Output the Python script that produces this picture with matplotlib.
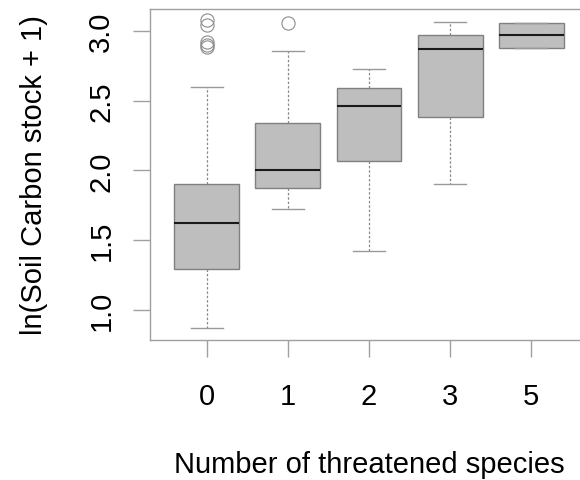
import matplotlib
matplotlib.use("Agg")
import matplotlib.pyplot as plt

categories = ["0", "1", "2", "3", "5"]
whislo = [0.871, 1.722, 1.419, 1.901, 2.878]
q1 = [1.290, 1.870, 2.068, 2.384, 2.878]
med = [1.619, 2.000, 2.462, 2.869, 2.969]
q3 = [1.899, 2.336, 2.587, 2.969, 3.058]
whishi = [2.596, 2.857, 2.725, 3.067, 3.058]
fliers = [[3.080, 3.041, 2.919, 2.902, 2.883], [3.060], [], [], []]

plt.rcParams['font.family'] = ['Liberation Sans', 'DejaVu Sans']

fig = plt.figure(figsize=(5.8, 4.81), dpi=100)
ax = fig.add_axes([150/580, 140/481, 438/580, 331/481])

stats = []
for i, c in enumerate(categories):
    stats.append(dict(label=c, whislo=whislo[i], q1=q1[i], med=med[i],
                      q3=q3[i], whishi=whishi[i], fliers=fliers[i]))

ax.bxp(stats, positions=range(1, 6), widths=0.8, patch_artist=True,
       boxprops=dict(facecolor='#BEBEBE', edgecolor='#808080', linewidth=1.0),
       medianprops=dict(color='#1a1a1a', linewidth=1.5),
       whiskerprops=dict(color='#8a8a8a', linewidth=0.9, linestyle=(0, (2, 1.5))),
       capprops=dict(color='#999999', linewidth=1.0),
       capwidths=0.4,
       flierprops=dict(marker='o', markersize=9.5, markerfacecolor='none',
                       markeredgecolor='#8c8c8c', markeredgewidth=0.8))

ax.set_xlim(0.3, 5.7)
ax.set_ylim(0.783, 3.157)
ax.set_yticks([1.0, 1.5, 2.0, 2.5, 3.0])
ax.set_yticklabels(['1.0', '1.5', '2.0', '2.5', '3.0'], rotation=90, va='center')
ax.set_xticks(range(1, 6))
ax.set_xticklabels(categories)

for s in ax.spines.values():
    s.set_color('#a0a0a0')
    s.set_linewidth(1.0)

ax.tick_params(axis='both', length=12, width=1.0, color='#a0a0a0',
               labelsize=21, labelcolor='#000000')
ax.tick_params(axis='x', pad=18)
ax.tick_params(axis='y', pad=13)

ax.set_xlabel('Number of threatened species', fontsize=21, labelpad=29, color='#000000')
ax.set_ylabel('ln(Soil Carbon stock + 1)', fontsize=21, labelpad=28, color='#000000')

fig.savefig('out.png', dpi=100)
